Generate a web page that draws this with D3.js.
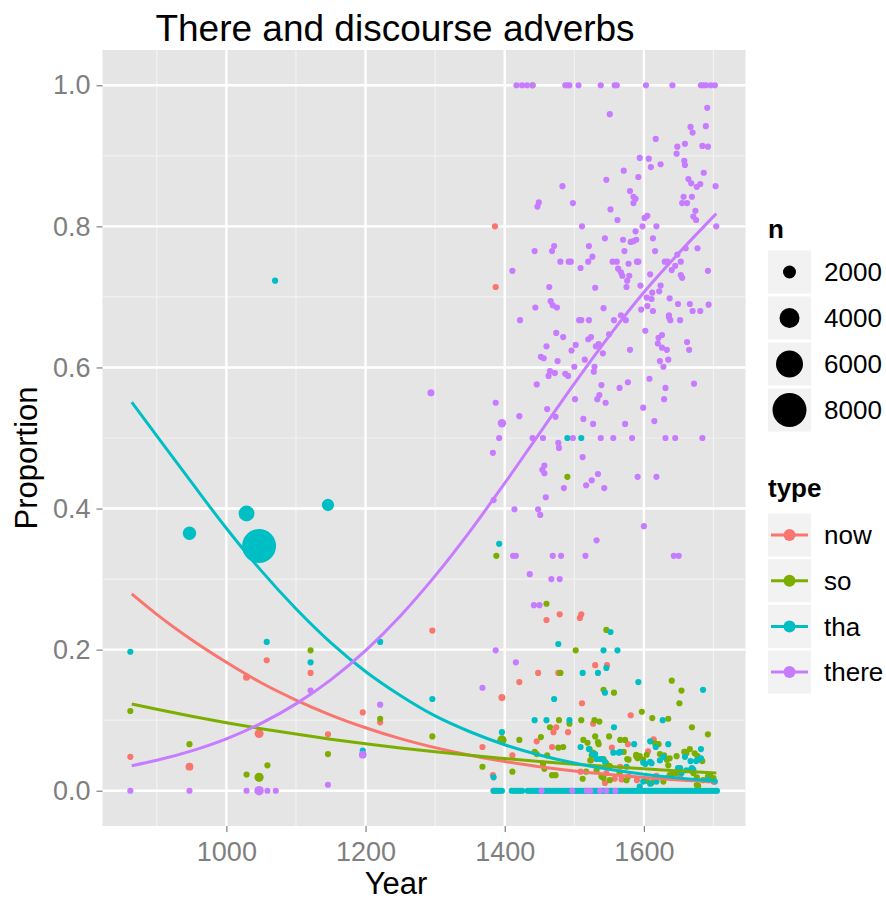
<!DOCTYPE html>
<html><head><meta charset="utf-8">
<script src="https://cdn.jsdelivr.net/npm/d3@7/dist/d3.min.js"></script>
<style>body{margin:0;background:#fff} text{font-family:"Liberation Sans",Arial,Helvetica,sans-serif}</style>
</head><body><svg id="c" width="886" height="901"></svg>
<script>
// ---------- data ----------
const types = ["now","so","tha","there"];
const typeColors = ["#F8766D","#7CAE00","#00BFC4","#C77CFF"];
// [year, proportion, n]  (n omitted = small count)
const nowPts = [[862,0.048],[947,0.034,500],[1029,0.161,300],[1047,0.081,870],[1058,0.185],[1121,0.167],[1146,0.080],[1196,0.111],[1221,0.097],[1296,0.227],[1386,0.800],[1387,0.714],[1396,0.132,300],[1368,0.062],[1411,0.050],[1383,0.022],[1384,0],[1421,0.154],[1446,0.070],[1448,0.167],[1460,0.242],[1468,0.062],[1470,0.083],[1474,0.090],[1477,0.167],[1479,0.250],[1491,0.083],[1508,0.245],[1509,0.027],[1510,0.250],[1511,0.124],[1524,0.043],[1527,0.095],[1530,0.178],[1544,0.011],[1546,0.025],[1547,0.178],[1554,0.061],[1558,0.017],[1566,0.034],[1568,0.016],[1577,0.066],[1578,0.020],[1581,0.107],[1590,0.015],[1606,0.056],[1614,0.073],[1614,0.014],[1618,0.021],[1640,0.019],[1652,0.022],[1700,0.013]];
const soPts = [[862,0.113],[947,0.066],[1029,0.023],[1047,0.019,900],[1059,0.036],[1121,0.199],[1146,0.052],[1221,0.102],[1296,0.077],[1388,0.333],[1391,0],[1368,0.034],[1396,0.072,960],[1411,0.027],[1421,0.072],[1440,1.0],[1443,0.055],[1446,0.052],[1452,0.076],[1455,0.038],[1457,0.031],[1460,0.265],[1461,0.050],[1465,0.090],[1468,0.022],[1473,0.022],[1477,0.061],[1478,0.100],[1480,0.167],[1484,0.062],[1490,0.445],[1493,0.095],[1502,0.199],[1510,0.100],[1512,0.017],[1513,0.072],[1517,0.027],[1519,0.068],[1522,0.059],[1523,0.043],[1525,0.050],[1527,0.054],[1529,0.100],[1530,0.077],[1532,0.029],[1534,0.069],[1535,0.066],[1536,0.098],[1539,0.020],[1542,0.143],[1542,0.045],[1542,0.018],[1546,0.228],[1546,0.039],[1550,0.077],[1551,0.035],[1551,0.015],[1557,0.139],[1565,0.025],[1566,0.072],[1571,0.055],[1573,0.072],[1575,0.015],[1576,0.045],[1578,0.044],[1589,0.049],[1589,0.051],[1591,0.046],[1594,0.049],[1597,0.112],[1599,0.044],[1604,0.051],[1604,0.014],[1611,0.011],[1612,0.103],[1616,0.067],[1621,0.066],[1623,0.052],[1628,0.013],[1629,0.050],[1633,0.044],[1635,0.102],[1635,0.036],[1637,0.046],[1637,0.022],[1640,0.156],[1642,0.025],[1646,0.025],[1647,0.026],[1647,0.049],[1651,0.124],[1654,0.142],[1658,0.055],[1659,0.055],[1661,0.053],[1666,0.059],[1669,0.090],[1671,0.025],[1673,0.053],[1676,0.019],[1676,0.008],[1677,0.049],[1678,0.007],[1684,0.042],[1685,0.015],[1692,0.080],[1692,0.020],[1695,0.022],[1700,0.018]];
const thaPts = [[862,0.197],[947,0.365,2100],[1029,0.393,2800],[1047,0.347,8000],[1058,0.211],[1070,0.723],[1121,0.182],[1146,0.405,1800],[1196,0.057],[1221,0.211],[1296,0.130],[1392,0.350],[1384,0.019],[1396,0.083],[1443,0.100],[1460,0.100],[1471,0.130],[1477,0.208],[1490,0.500],[1493,0.100],[1509,0.062],[1510,0.500],[1512,0.167],[1521,0.059],[1526,0.052],[1530,0.052],[1532,0.045],[1534,0.167],[1537,0.045],[1540,0.045],[1542,0.199],[1544,0.139],[1544,0.041],[1546,0.174],[1552,0.225],[1556,0.054],[1557,0.090],[1562,0.199],[1564,0.054],[1566,0.055],[1575,0.034],[1586,0.066],[1592,0.154],[1594,0.006],[1599,0.040],[1599,0.013],[1602,0.038],[1609,0.070],[1609,0.041],[1609,0.010],[1611,0.039],[1617,0.062],[1618,0.013],[1623,0.043],[1627,0.100],[1628,0.048],[1635,0.066],[1649,0.032],[1652,0.032],[1654,0.025],[1659,0.048],[1661,0.029],[1666,0.029],[1667,0.042],[1669,0.032],[1671,0.030],[1675,0.042],[1678,0.044],[1682,0.059],[1682,0.046],[1685,0.143],[1692,0.015],[1702,0.013],
[1384,0],[1386,0],[1388,0],[1393,0],[1396,0],[1410,0],[1413,0],[1416,0],[1419,0],[1422,0],[1425,0],[1433,0],[1436,0],[1439,0],[1442,0],[1445,0],[1448,0],[1451,0],[1454,0],[1457,0],[1460,0],[1463,0],[1466,0],[1469,0],[1472,0],[1475,0],[1478,0],[1481,0],[1484,0],[1487,0],[1490,0],[1493,0],[1496,0],[1499,0],[1502,0],[1505,0],[1508,0],[1511,0],[1514,0],[1517,0],[1520,0],[1523,0],[1526,0],[1529,0],[1532,0],[1535,0],[1538,0],[1541,0],[1544,0],[1547,0],[1550,0],[1553,0],[1556,0],[1559,0],[1562,0],[1565,0],[1568,0],[1571,0],[1574,0],[1577,0],[1580,0],[1583,0],[1586,0],[1589,0],[1592,0],[1595,0],[1598,0],[1601,0],[1604,0],[1607,0],[1610,0],[1613,0],[1616,0],[1619,0],[1622,0],[1625,0],[1628,0],[1631,0],[1634,0],[1637,0],[1640,0],[1643,0],[1646,0],[1649,0],[1652,0],[1655,0],[1658,0],[1661,0],[1664,0],[1667,0],[1670,0],[1673,0],[1676,0],[1679,0],[1682,0],[1685,0],[1688,0],[1691,0],[1694,0],[1697,0],[1700,0],[1703,0],[1705,0]];
const therePts = [[862,0],[947,0],[1029,0],[1047,0,1000],[1059,0],[1071,0],[1121,0.142],[1146,0.0085],[1196,0.051,500],[1221,0.122],[1294,0.564,300],[1368,0.146],[1387,0.199],[1383,0.479],[1384,0.412],[1387,0.550],[1392,0.500],[1396,0.521,700],[1411,0.737],[1412,0.333],[1414,0.399],[1416,0.333],[1416,0.182],[1417,1],[1421,0.531],[1422,0.667],[1425,1],[1432,1],[1436,0.307],[1440,1],[1440,0.500],[1442,0.263],[1443,0.765],[1444,0.685],[1446,0.576],[1447,0.828],[1448,0.399],[1449,0.834],[1450,0.263],[1451,0.391],[1452,0.615],[1453,0],[1454,0.455],[1455,0.500],[1456,0.613],[1457,0.461],[1457,0.450],[1459,0.416],[1460,0.630],[1461,0.541],[1463,0.588],[1464,0.714],[1465,0.595],[1466,0.694],[1467,0.300],[1468,0.765],[1469,0.333],[1469,0.688],[1471,0.772],[1472,0.592],[1473,0.530],[1474,0.649],[1475,0.685],[1476,0.609],[1477,0.493],[1478,0.486],[1479,0.300],[1480,0.750],[1481,0.333],[1483,0.857],[1484,0.643],[1485,0.429],[1487,0.591],[1487,1],[1490,1],[1491,0.588],[1492,0.750],[1493,1],[1495,0.750],[1496,0.624],[1497,0],[1498,0.833],[1498,0.500],[1500,0.601],[1501,0.555],[1502,0.632],[1506,1],[1507,0.667],[1509,0.741],[1510,0.667],[1511,0.800],[1512,0.473],[1513,0.527],[1515,0.611],[1516,0.333],[1517,0.433],[1518,0],[1520,0.750],[1520,0.640],[1521,0.772],[1521,0.667],[1523,0],[1524,0.643],[1525,0.440],[1526,0.757],[1527,0.520],[1528,0.594],[1529,0.601],[1530,0.713],[1531,0.630],[1532,0.355],[1533,0.555],[1534,0.449],[1535,0.633],[1536,0.561],[1537,0],[1538,1],[1538,0.500],[1539,0.575],[1541,0.620],[1542,0.684],[1543,0.429],[1544,0.783],[1545,0.550],[1546,0.866],[1546,0],[1550,0.647],[1551,0.959],[1552,0.824],[1555,0.750],[1556,0.500],[1557,0.667],[1558,1],[1559,0],[1561,1],[1561,0.750],[1562,0.809],[1563,0.740],[1565,0.571],[1567,0.674],[1567,0.735],[1569,0.730],[1570,0.781],[1571,0.879],[1572,0.765],[1573,0.520],[1574,0.667],[1575,0.714],[1576,0.723],[1577,0.579],[1578,0.747],[1579,0.730],[1580,0.850],[1580,0.625],[1581,0.778],[1583,0.500],[1585,0.842],[1585,0.833],[1585,0.779],[1588,0.839],[1588,0.793],[1589,0.781],[1590,0.750],[1591,0.445],[1592,0.870],[1592,0.750],[1594,0.897],[1595,0.716],[1596,0.682],[1598,0.800],[1599,0.543],[1600,0.375],[1601,0.812],[1602,0.652],[1603,1],[1604,0.699],[1605,0.815],[1605,0.687],[1607,0.896],[1608,0.584],[1609,0.732],[1610,0.884],[1611,0.697],[1612,0.706],[1613,0.783],[1613,0.680],[1615,0.524],[1616,0.765],[1617,0.924],[1618,0.800],[1618,0.445],[1620,0.634],[1621,0.642],[1622,0.708],[1623,0.609],[1624,0.888],[1624,0.716],[1626,0.646],[1626,0.628],[1628,0.601],[1629,0.555],[1630,0.750],[1631,0.571],[1631,0.500],[1633,0.625],[1634,0.750],[1635,0.611],[1636,0.674],[1636,0.671],[1637,0.698],[1638,0.667],[1640,0.738],[1641,1],[1643,0.333],[1645,0.744],[1645,0.500],[1647,0.903],[1648,0.913],[1648,0.760],[1649,0.690],[1650,0.333],[1652,0.667],[1653,0.750],[1653,0.731],[1655,0.833],[1655,0.727],[1657,0.842],[1658,0.893],[1659,0.917],[1659,0.887],[1660,0.769],[1662,0.833],[1662,0.636],[1664,0.867],[1665,0.625],[1666,0.690],[1667,0.941],[1668,0.861],[1669,0.842],[1670,0.933],[1670,0.680],[1671,0.814],[1672,0.577],[1674,0.822],[1675,0.809],[1676,0.856],[1677,0.769],[1681,0.860],[1681,0.680],[1682,1],[1684,0.914],[1684,0.500],[1685,1],[1686,0.876],[1689,1],[1689,0.942],[1691,0.968],[1692,0.913],[1692,0.737],[1693,0.689],[1696,1],[1702,1],[1703,0.857],[1704,0.800]];
// fitted smooth curves
const fitYears = [864,900,950,1000,1050,1100,1150,1200,1250,1300,1350,1400,1450,1500,1550,1600,1650,1704];
const fitNow   = [0.279,0.250,0.214,0.182,0.153,0.1285,0.1073,0.0893,0.0739,0.0611,0.0504,0.0414,0.0340,0.0279,0.0229,0.0187,0.0153,0.0123];
const fitSo    = [0.1229,0.1154,0.1055,0.0964,0.0880,0.0803,0.0731,0.0667,0.0607,0.0552,0.0502,0.0457,0.0414,0.0377,0.0342,0.0310,0.0281,0.0253];
const fitTha   = [0.551,0.503,0.437,0.372,0.312,0.258,0.210,0.169,0.135,0.106,0.0836,0.0652,0.0507,0.0392,0.0303,0.0234,0.0180,0.0135];
const fitThere = [0.0354,0.0431,0.0565,0.0736,0.0955,0.1231,0.1572,0.1986,0.2478,0.3045,0.3677,0.4359,0.5066,0.5771,0.6445,0.7066,0.7619,0.818];
const xTicks = [1000,1200,1400,1600];
const xMinor = [900,1100,1300,1500,1700];
const yTicks = [0,0.2,0.4,0.6,0.8,1.0];
const yMinor = [0.1,0.3,0.5,0.7,0.9];
const sizeBreaks = [2000,4000,6000,8000];
const defaultN = 50;

const pointSets = [nowPts, soPts, thaPts, therePts];
const fitSets = [fitNow, fitSo, fitTha, fitThere];

// ---------- layout ----------
const svg = d3.select("#c");
const P = {l:102.5, r:745.5, t:50, b:826};
const x = d3.scaleLinear().domain([822,1746]).range([P.l,P.r]);
const y = d3.scaleLinear().domain([-0.05,1.05]).range([P.b,P.t]);
const rS = d3.scaleLinear().domain([0,8000]).range([3.0,17]);
const col = d3.scaleOrdinal().domain(types).range(typeColors);
const grey50 = "#7f7f7f";

svg.append("rect").attr("width",886).attr("height",901).attr("fill","#fff");
svg.append("rect").attr("x",P.l).attr("y",P.t).attr("width",P.r-P.l).attr("height",P.b-P.t).attr("fill","#e5e5e5");

const grid = svg.append("g");
grid.selectAll(".vm").data(xMinor).join("line").attr("x1",d=>x(d)).attr("x2",d=>x(d)).attr("y1",P.t).attr("y2",P.b).attr("stroke","#f2f2f2").attr("stroke-width",1.2);
grid.selectAll(".hm").data(yMinor).join("line").attr("y1",d=>y(d)).attr("y2",d=>y(d)).attr("x1",P.l).attr("x2",P.r).attr("stroke","#f2f2f2").attr("stroke-width",1.2);
grid.selectAll(".vM").data(xTicks).join("line").attr("x1",d=>x(d)).attr("x2",d=>x(d)).attr("y1",P.t).attr("y2",P.b).attr("stroke","#fff").attr("stroke-width",2.4);
grid.selectAll(".hM").data(yTicks).join("line").attr("y1",d=>y(d)).attr("y2",d=>y(d)).attr("x1",P.l).attr("x2",P.r).attr("stroke","#fff").attr("stroke-width",2.4);

// points
svg.append("clipPath").attr("id","pc").append("rect").attr("x",P.l).attr("y",P.t).attr("width",P.r-P.l).attr("height",P.b-P.t);
const pg = svg.append("g").attr("clip-path","url(#pc)");
types.forEach((t,i)=>{
  pg.append("g").selectAll("circle").data(pointSets[i]).join("circle")
    .attr("cx",d=>x(d[0])).attr("cy",d=>y(d[1])).attr("r",d=>rS(d[2]||defaultN))
    .attr("fill",col(t));
});
// fit lines
const line = d3.line().x(d=>x(d[0])).y(d=>y(d[1])).curve(d3.curveMonotoneX);
types.forEach((t,i)=>{
  pg.append("path").attr("d",line(fitYears.map((yr,j)=>[yr,fitSets[i][j]])))
    .attr("fill","none").attr("stroke",col(t)).attr("stroke-width",3);
});

// axes
const xa = svg.append("g").attr("transform",`translate(0,${P.b})`)
  .call(d3.axisBottom(x).tickValues(xTicks).tickSize(6).tickPadding(10).tickFormat(d3.format("d")));
const ya = svg.append("g").attr("transform",`translate(${P.l},0)`)
  .call(d3.axisLeft(y).tickValues(yTicks).tickSize(6).tickPadding(6).tickFormat(d3.format(".1f")));
[xa,ya].forEach(a=>{
  a.select(".domain").remove();
  a.selectAll("line").attr("stroke",grey50).attr("stroke-width",1.2);
  a.selectAll("text").attr("fill",grey50).style("font-size","27px").style("font-family","'Liberation Sans',Arial,sans-serif");
});
xa.selectAll("text").attr("dy","0.71em");

// titles
svg.append("text").attr("x",395).attr("y",41).attr("text-anchor","middle").style("font-size","37px").text("There and discourse adverbs");
svg.append("text").attr("x",396).attr("y",894).attr("text-anchor","middle").style("font-size","31px").text("Year");
svg.append("text").attr("transform","translate(37,458) rotate(-90)").attr("text-anchor","middle").style("font-size","31px").text("Proportion");

// size legend
const lg = svg.append("g");
lg.append("text").attr("x",768).attr("y",238).style("font-size","26px").style("font-weight","bold").text("n");
sizeBreaks.forEach((b,i)=>{
  const cy = 272 + i*46;
  lg.append("rect").attr("x",768).attr("y",cy-21.5).attr("width",43).attr("height",43).attr("fill","#f2f2f2");
  lg.append("circle").attr("cx",789.5).attr("cy",cy).attr("r",rS(b)).attr("fill","#000");
  lg.append("text").attr("x",824).attr("y",cy).attr("dy","0.36em").style("font-size","26px").text(b);
});
// type legend
lg.append("text").attr("x",768).attr("y",497).style("font-size","26px").style("font-weight","bold").text("type");
types.forEach((t,i)=>{
  const cy = 535 + i*45.7;
  lg.append("rect").attr("x",768).attr("y",cy-21.5).attr("width",43).attr("height",43).attr("fill","#f2f2f2");
  lg.append("line").attr("x1",771).attr("x2",808).attr("y1",cy).attr("y2",cy).attr("stroke",col(t)).attr("stroke-width",3);
  lg.append("circle").attr("cx",789.5).attr("cy",cy).attr("r",6).attr("fill",col(t));
  lg.append("text").attr("x",824).attr("y",cy).attr("dy","0.36em").style("font-size","26px").text(t);
});
</script></body></html>
